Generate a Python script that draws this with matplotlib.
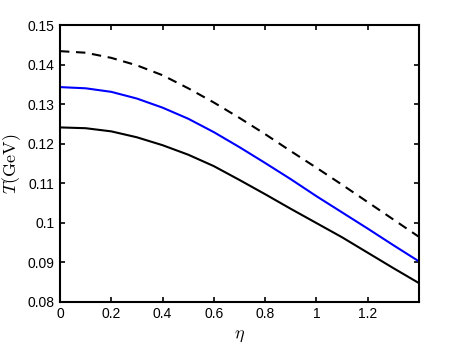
import numpy as np
import matplotlib
matplotlib.use("Agg")
import matplotlib.pyplot as plt

plt.rcParams['font.family'] = ['Liberation Sans', 'DejaVu Sans']
plt.rcParams['mathtext.fontset'] = 'cm'

# eta grid and temperature curves (GeV)
eta = [0.0, 0.1, 0.2, 0.3, 0.4, 0.5, 0.6, 0.7, 0.8, 0.9, 1.0, 1.1, 1.2, 1.3, 1.4]
T_dashed = [0.1434, 0.1430, 0.1417, 0.1398, 0.1373, 0.1340, 0.1304, 0.1265,
            0.1224, 0.1181, 0.1139, 0.1096, 0.1052, 0.1008, 0.0964]
T_blue = [0.1343, 0.1340, 0.1331, 0.1314, 0.1291, 0.1263, 0.1229, 0.1191,
          0.1151, 0.1110, 0.1067, 0.1026, 0.0985, 0.0943, 0.0902]
T_black = [0.1241, 0.1239, 0.1231, 0.1216, 0.1196, 0.1172, 0.1143, 0.1108,
           0.1072, 0.1035, 0.0999, 0.0963, 0.0924, 0.0885, 0.0847]

xticks = [0, 0.2, 0.4, 0.6, 0.8, 1, 1.2]
xticklabels = ['0', '0.2', '0.4', '0.6', '0.8', '1', '1.2']
yticks = [0.08, 0.09, 0.1, 0.11, 0.12, 0.13, 0.14, 0.15]
yticklabels = ['0.08', '0.09', '0.1', '0.11', '0.12', '0.13', '0.14', '0.15']

fig = plt.figure(figsize=(4.63, 3.48), dpi=100)
ax = fig.add_axes([0.1296, 0.133, 0.7754, 0.795])

ax.plot(eta, T_dashed, color='black', lw=1.5, ls=(0, (4.5, 3.2)))
ax.plot(eta, T_blue, color='#0000ff', lw=1.5)
ax.plot(eta, T_black, color='black', lw=1.5)

ax.set_xlim(0, 1.4)
ax.set_ylim(0.08, 0.15)
ax.set_xticks(xticks)
ax.set_xticklabels(xticklabels)
ax.set_yticks(yticks)
ax.set_yticklabels(yticklabels)
ax.tick_params(direction='in', top=True, right=True, length=3.5, width=1.2,
               labelsize=10, pad=4)
for s in ax.spines.values():
    s.set_linewidth(1.5)

ax.set_xlabel(r'$\eta$', fontsize=13, labelpad=4)
ax.set_ylabel(r'$T\mathrm{(GeV)}$', fontsize=13, labelpad=3)

fig.savefig('out.png', dpi=100)
